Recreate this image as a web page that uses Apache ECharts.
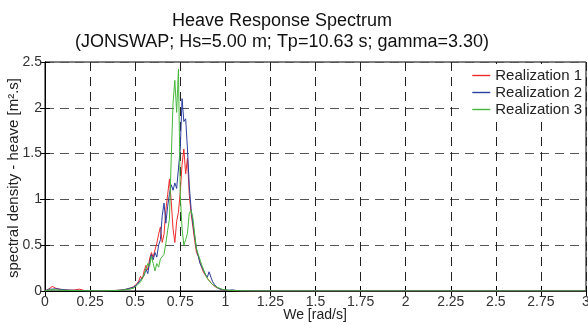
<!DOCTYPE html>
<html>
<head>
<meta charset="utf-8">
<script src="https://cdn.jsdelivr.net/npm/echarts@6/dist/echarts.min.js"></script>
<style>html,body{margin:0;padding:0;background:#fff}#c{width:588px;height:325px}</style>
</head>
<body>
<div id="c"></div>
<script>
const titleLines = ['Heave Response Spectrum', '(JONSWAP; Hs=5.00 m; Tp=10.63 s; gamma=3.30)'];
const seriesNames = ['Realization 1', 'Realization 2', 'Realization 3'];
const xTitle = 'We [rad/s]';
const yTitle = 'spectral density - heave [m\u00B2.s]';

const freq = [0, 0.01, 0.02, 0.03, 0.04, 0.05, 0.06, 0.08, 0.10, 0.13, 0.16, 0.19, 0.22, 0.26, 0.30, 0.34, 0.38, 0.41, 0.43, 0.45,
  0.46, 0.47, 0.48, 0.49, 0.50, 0.51, 0.52, 0.53, 0.54, 0.55,
  0.56, 0.57, 0.58, 0.59, 0.60, 0.61, 0.62, 0.63, 0.64, 0.65,
  0.66, 0.67, 0.68, 0.69, 0.70, 0.71, 0.72, 0.73, 0.74, 0.75,
  0.76, 0.77, 0.78, 0.79, 0.80, 0.81, 0.82, 0.83, 0.84, 0.85,
  0.86, 0.87, 0.88, 0.89, 0.90, 0.91, 0.92, 0.93, 0.94, 0.95,
  0.96, 0.97, 0.98, 0.99, 1.00,
  1.02, 1.04, 1.06, 1.08, 1.10, 1.20, 1.50, 2.00, 2.50, 3.00];

const real1 = [0, 0.01, 0.02, 0.04, 0.05, 0.04, 0.03, 0.02, 0.015, 0.01, 0.01, 0.02, 0.005, 0.003, 0.002, 0.003, 0.005, 0.008, 0.012, 0.018,
  0.02, 0.03, 0.035, 0.045, 0.06, 0.08, 0.11, 0.16, 0.13, 0.22,
  0.28, 0.23, 0.35, 0.42, 0.37, 0.45, 0.52, 0.62, 0.70, 0.53,
  0.62, 0.88, 1.05, 1.22, 0.98, 0.68, 0.53, 0.76, 0.86, 1.08,
  1.38, 1.55, 1.28, 1.45, 1.05, 0.85, 0.70, 0.55, 0.42, 0.38,
  0.31, 0.25, 0.20, 0.17, 0.14, 0.12, 0.09, 0.07, 0.05, 0.04,
  0.03, 0.02, 0.015, 0.01, 0.008,
  0.005, 0.004, 0.003, 0.002, 0.001, 0, 0, 0, 0, 0];

const real2 = [0, 0.01, 0.02, 0.03, 0.02, 0.03, 0.025, 0.02, 0.015, 0.01, 0.008, 0.006, 0.004, 0.003, 0.002, 0.003, 0.005, 0.008, 0.012, 0.02,
  0.025, 0.03, 0.03, 0.04, 0.05, 0.07, 0.08, 0.12, 0.10, 0.17,
  0.24, 0.19, 0.31, 0.40, 0.34, 0.42, 0.37, 0.50, 0.56, 0.82,
  0.96, 0.74, 0.92, 1.06, 1.16, 1.10, 1.18, 1.12, 1.10, 1.55,
  2.10, 1.85, 1.88, 1.55, 1.15, 0.90, 0.74, 0.60, 0.46, 0.38,
  0.30, 0.26, 0.22, 0.18, 0.15, 0.21, 0.15, 0.10, 0.07, 0.05,
  0.03, 0.02, 0.015, 0.012, 0.01,
  0.008, 0.012, 0.006, 0.003, 0.002, 0, 0, 0, 0, 0];

const real3 = [0, 0.005, 0.01, 0.02, 0.015, 0.01, 0.012, 0.01, 0.008, 0.006, 0.005, 0.004, 0.003, 0.002, 0.002, 0.003, 0.004, 0.006, 0.01, 0.015,
  0.02, 0.02, 0.025, 0.03, 0.04, 0.06, 0.08, 0.10, 0.14, 0.18,
  0.24, 0.30, 0.27, 0.38, 0.30, 0.22, 0.30, 0.26, 0.35, 0.33,
  0.40, 0.52, 0.66, 0.78, 1.45, 2.05, 2.30, 1.95, 2.42, 1.05,
  0.68, 0.50, 0.56, 0.63, 0.85, 0.88, 0.80, 0.62, 0.46, 0.40,
  0.34, 0.28, 0.23, 0.18, 0.14, 0.11, 0.09, 0.07, 0.055, 0.045,
  0.035, 0.028, 0.02, 0.015, 0.01,
  0.008, 0.006, 0.004, 0.003, 0.002, 0, 0, 0, 0, 0];

const colors = ['#ee2a2a', '#2b3d9f', '#45b83a'];
const allSeries = [real1, real2, real3];

const chart = echarts.init(document.getElementById('c'), null, {renderer: 'canvas'});
const font = '"Liberation Sans", Arial, sans-serif';

chart.setOption({
  backgroundColor: '#fff',
  animation: false,
  textStyle: {fontFamily: font},
  graphic: [
    {type: 'text', x: 282, y: 12, style: {text: titleLines[0], x: 0, y: 0, align: 'center', verticalAlign: 'top', font: '18px ' + font, fill: '#111'}},
    {type: 'text', x: 282, y: 33, style: {text: titleLines[1], x: 0, y: 0, align: 'center', verticalAlign: 'top', font: '18px ' + font, fill: '#111'}},
    {type: 'text', x: 315, y: 315, style: {text: xTitle, x: 0, y: 0, align: 'center', verticalAlign: 'middle', font: '14px ' + font, fill: '#222'}},
    {type: 'text', x: 14, y: 178, rotation: Math.PI / 2, style: {text: yTitle, x: 0, y: 0, align: 'center', verticalAlign: 'middle', font: '15px ' + font, fill: '#222'}}
  ],
  grid: {left: 45, right: 2, top: 62, bottom: 34, containLabel: false, outerBoundsMode: 'none',
    show: true, borderColor: '#000', borderWidth: 1, backgroundColor: '#fff'},
  legend: {
    data: seriesNames,
    orient: 'vertical',
    right: 3, top: 64,
    itemWidth: 18, itemHeight: 14, itemGap: 2,
    padding: [4, 3, 4, 12],
    backgroundColor: '#fff',
    icon: 'path://M0,6 L18,6 L18,7.4 L0,7.4 Z',
    textStyle: {fontSize: 15, color: '#222', fontFamily: font, padding: [0, 0, 0, 0]}
  },
  xAxis: [{
    type: 'value', min: 0, max: 3, interval: 0.25,
    axisLine: {show: true, lineStyle: {color: '#000'}},
    axisTick: {show: true, inside: true, length: 5, lineStyle: {color: '#000'}},
    axisLabel: {fontSize: 14, color: '#333', margin: 4, fontFamily: font},
    splitLine: {show: true, lineStyle: {color: '#222', type: [9, 6], width: 1}}
  }, {
    type: 'value', min: 0, max: 3, interval: 0.25, position: 'top',
    axisLine: {show: true, lineStyle: {color: '#000'}},
    axisTick: {show: true, inside: true, length: 5, lineStyle: {color: '#000'}},
    axisLabel: {show: false}, splitLine: {show: false}
  }],
  yAxis: [{
    type: 'value', min: 0, max: 2.5, interval: 0.5,
    axisLine: {show: true, lineStyle: {color: '#000'}},
    axisTick: {show: true, inside: true, length: 5, lineStyle: {color: '#000'}},
    axisLabel: {fontSize: 14, color: '#333', margin: 3, fontFamily: font},
    splitLine: {show: true, lineStyle: {color: '#555', type: [9, 6], width: 1}}
  }, {
    type: 'value', min: 0, max: 2.5, interval: 0.5, position: 'right',
    axisLine: {show: true, lineStyle: {color: '#000'}},
    axisTick: {show: true, inside: true, length: 5, lineStyle: {color: '#000'}},
    axisLabel: {show: false}, splitLine: {show: false}
  }],
  series: allSeries.map((vals, k) => ({
    name: seriesNames[k],
    type: 'line',
    data: freq.map((f, i) => [f, vals[i]]),
    showSymbol: false,
    symbol: 'none',
    color: colors[k],
    lineStyle: {width: 1, color: colors[k]},
    z: 3 + k
  }))
});
</script>
</body>
</html>
